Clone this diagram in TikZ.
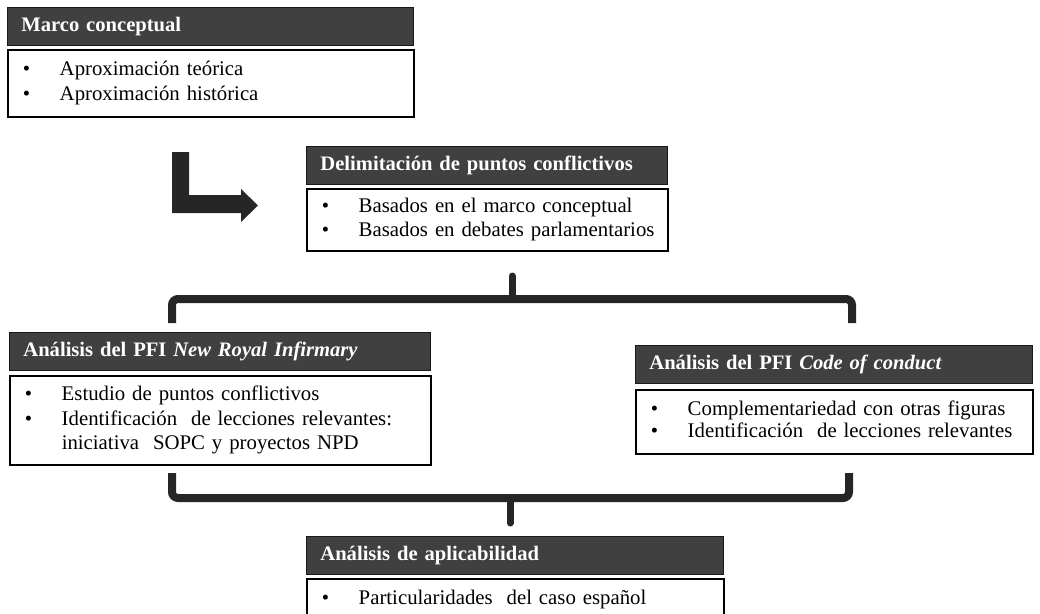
\documentclass[tikz,border=0pt]{standalone}
\usepackage{fontspec}
\setmainfont{Liberation Serif}
\definecolor{hdr}{HTML}{404040}
\definecolor{ink}{HTML}{262626}
\tikzset{
 hdrbox/.style={draw=black!90, line width=0.8pt, fill=hdr, text=white,
   font=\fontsize{20.6}{24}\selectfont\bfseries, anchor=north west,
   inner xsep=14pt, inner ysep=0pt, minimum height=38pt, align=left},
 bodybox/.style={draw=black, line width=1.5pt, fill=white, anchor=north west,
   inner xsep=15pt, inner ysep=0pt, align=left, font=\fontsize{20.8}{24.5}\selectfont},
 brace/.style={draw=ink, line width=8pt, rounded corners=6pt},
 bracetip/.style={draw=ink, line width=7pt, line cap=round},
}
\newcommand{\blist}[1]{\begin{tabular}{@{}p{37pt}@{}l@{}}#1\end{tabular}}
\begin{document}
\begin{tikzpicture}[x=1pt,y=-1pt]
\useasboundingbox (0,0) rectangle (1040,613);
\clip (0,0) rectangle (1040,613);
% Box 1
\node[hdrbox, text width=378pt] (h1) at (7,7) {Marco conceptual};
\node[bodybox, text width=376pt, minimum height=67pt] (b1) at (7,49)
  {\blist{\textbullet & Aproximación teórica\\ \textbullet & Aproximación histórica}};
% Box 2
\node[hdrbox, text width=333pt] (h2) at (306,146) {Delimitación de puntos conflictivos};
\node[bodybox, text width=331pt, minimum height=62pt] (b2) at (306,188)
  {\blist{\textbullet & Basados en el marco conceptual\\ \textbullet & Basados en debates parlamentarios}};
% L arrow
\fill[ink] (172,152) -- (189,152) -- (189,195) -- (241,195) -- (241,189) -- (258,205.5)
  -- (241,222) -- (241,213) -- (172,213) -- cycle;
% top brace
\coordinate (tbl) at (172,323);
\coordinate (tbr) at (852,323);
\coordinate (tbc) at (512,299);
\draw[brace] (tbl) -- (172,299) -- (852,299) -- (tbr);
\draw[bracetip] (tbc) -- (512,276);
% Left box
\node[hdrbox, text width=393pt] (h3) at (9,332) {Análisis del PFI \textit{New Royal Infirmary}};
\node[bodybox, text width=391pt, minimum height=89pt] (b3) at (9,375)
  {\blist{\textbullet & Estudio de puntos conflictivos\\ \textbullet & Identificación\ \ de lecciones relevantes:\\ & iniciativa\ \ SOPC y proyectos NPD}};
% Right box
\node[hdrbox, text width=369pt] (h4) at (635,345) {Análisis del PFI \textit{Code of conduct}};
\node[bodybox, text width=367pt, minimum height=64pt, font=\fontsize{20.8}{22.5}\selectfont] (b4) at (635,389)
  {\blist{\textbullet & Complementariedad con otras figuras\\ \textbullet & Identificación\ \ de lecciones relevantes}};
% bottom brace
\coordinate (bbl) at (172,473);
\coordinate (bbr) at (849,473);
\coordinate (bbc) at (510,498);
\draw[brace] (bbl) -- (172,498) -- (849,498) -- (bbr);
\draw[bracetip] (bbc) -- (510,523);
% Bottom box
\node[hdrbox, text width=389pt] (h5) at (306,536) {Análisis de aplicabilidad};
\node[bodybox, text width=387pt, minimum height=42pt] (b5) at (306,578)
  {\blist{\textbullet & Particularidades\ \ del caso español}};
\end{tikzpicture}
\end{document}
